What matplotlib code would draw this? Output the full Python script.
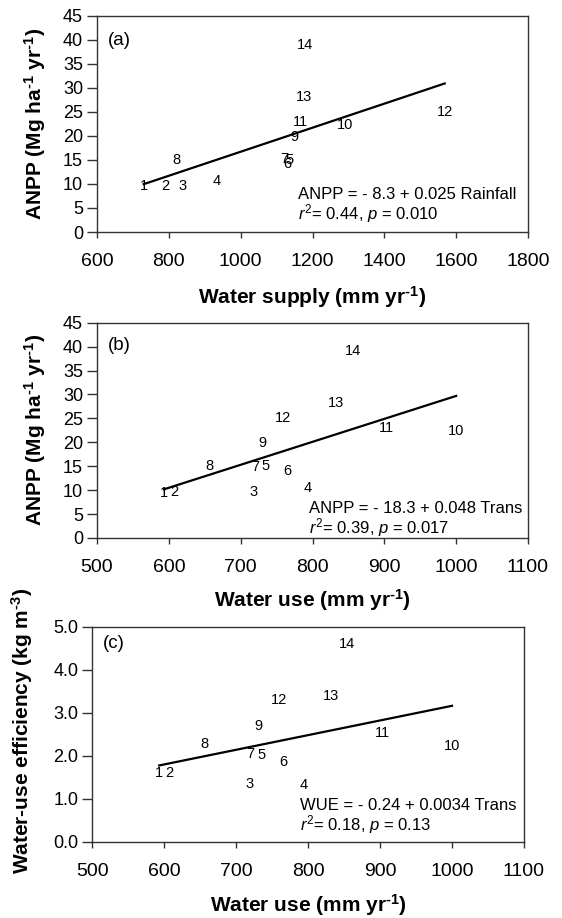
import matplotlib
matplotlib.use('Agg')
import matplotlib.pyplot as plt
import numpy as np

plt.rcParams['font.family'] = ['Liberation Sans', 'DejaVu Sans']
plt.rcParams['mathtext.fontset'] = 'custom'
plt.rcParams['mathtext.rm'] = 'Liberation Sans'
plt.rcParams['mathtext.it'] = 'Liberation Sans:italic'
plt.rcParams['mathtext.bf'] = 'Liberation Sans:bold'

# site numbers used as point labels
site_ids = ['1', '2', '3', '4', '5', '6', '7', '8', '9', '10', '11', '12', '13', '14']

# (a) water supply vs ANPP
supply_a = [730, 791, 839, 933, 1137, 1129, 1121, 821, 1149, 1291, 1166, 1568, 1177, 1179]
anpp_a = [9.5, 9.6, 9.5, 10.6, 14.9, 14.1, 15.1, 14.9, 19.8, 22.2, 22.9, 25.0, 28.1, 38.9]

# (b) water use vs ANPP
use_b = [593, 608, 718, 793, 735, 765, 720, 656, 731, 1000, 903, 759, 833, 856]
anpp_b = [9.4, 9.7, 9.7, 10.5, 15.0, 14.1, 14.8, 15.0, 19.8, 22.3, 23.0, 25.1, 28.2, 39.0]

# (c) water use vs WUE
use_c = [593, 607, 718, 794, 735, 765, 720, 656, 731, 1000, 903, 760, 832, 854]
wue_c = [1.60, 1.60, 1.35, 1.33, 2.02, 1.85, 2.05, 2.27, 2.70, 2.23, 2.54, 3.30, 3.39, 4.59]

# regression fits (intercept, slope) as printed on the figure
fit_a = (-8.3, 0.025)
fit_b = (-18.3, 0.048)
fit_c = (-0.24, 0.0034)

W, H = 562, 918
fig = plt.figure(figsize=(W / 100, H / 100), dpi=100)

# short hyphen for the unit exponents (mathtext would draw a long minus)
HY = '\u2010'


def px_axes(left, right, top, bottom):
    return fig.add_axes([left / W, 1 - bottom / H, (right - left) / W, (bottom - top) / H])


def draw_panel(ax, x, y, fit, xlim, xticks, ylim, yticks, yfmt, tag, eq1, eq2, eqpos):
    for i in range(len(x)):
        ax.text(x[i], y[i], site_ids[i], ha='center', va='center', fontsize=10.5)
    xs = np.array([min(x), max(x)])
    ax.plot(xs, fit[0] + fit[1] * xs, color='black', linewidth=1.6)
    ax.set_xlim(xlim)
    ax.set_ylim(ylim)
    ax.set_xticks(xticks)
    ax.set_yticks(yticks)
    ax.set_yticklabels([yfmt.format(v) for v in yticks])
    ax.tick_params(axis='x', direction='out', length=4, width=1, labelsize=14, pad=11, colors='#333333', labelcolor='black')
    ax.tick_params(axis='y', direction='out', length=7, width=1, labelsize=13, pad=3, colors='#333333', labelcolor='black')
    for s in ax.spines.values():
        s.set_color('#333333')
        s.set_linewidth(1.0)
    ax.text(0.025, tag[1], tag[0], transform=ax.transAxes, fontsize=13.5, va='center', ha='left')
    ax.text(eqpos[0], eqpos[1], eq1, transform=ax.transAxes, fontsize=12, va='baseline', ha='left')
    ax.text(eqpos[0], eqpos[2], eq2, transform=ax.transAxes, fontsize=12, va='baseline', ha='left')


ax_a = px_axes(97, 528, 15.7, 232)
draw_panel(ax_a, supply_a, anpp_a, fit_a, (600, 1800), range(600, 1801, 200),
           (0, 45), list(range(0, 46, 5)), '{:d}', ('(a)', 0.884),
           'ANPP = - 8.3 + 0.025 Rainfall', r'$r^2$= 0.44, $p$ = 0.010', (0.466, 0.153, 0.056))

ax_b = px_axes(97, 528, 322.7, 538)
draw_panel(ax_b, use_b, anpp_b, fit_b, (500, 1100), range(500, 1101, 100),
           (0, 45), list(range(0, 46, 5)), '{:d}', ('(b)', 0.894),
           'ANPP = - 18.3 + 0.048 Trans', r'$r^2$= 0.39, $p$ = 0.017', (0.492, 0.117, 0.022))

ax_c = px_axes(92.3, 524, 626.5, 842)
draw_panel(ax_c, use_c, wue_c, fit_c, (500, 1100), range(500, 1101, 100),
           (0, 5), [0.0, 1.0, 2.0, 3.0, 4.0, 5.0], '{:.1f}', ('(c)', 0.92),
           'WUE = - 0.24 + 0.0034 Trans', r'$r^2$= 0.18, $p$ = 0.13', (0.48, 0.149, 0.053))

# axis titles placed by hand, as in the original layout
anpp_lab = r'ANPP (Mg ha$^{\mathbf{' + HY + r'1}}$ yr$^{\mathbf{' + HY + r'1}}$)'
fig.text(35 / W, 1 - 124 / H, anpp_lab, rotation=90, ha='center', va='center', fontsize=15, fontweight='bold')
fig.text(35 / W, 1 - 430 / H, anpp_lab, rotation=90, ha='center', va='center', fontsize=15, fontweight='bold')
fig.text(22 / W, 1 - 731 / H, r'Water-use efficiency (kg m$^{\mathbf{' + HY + r'3}}$)', rotation=90,
         ha='center', va='center', fontsize=15, fontweight='bold')

unit_yr = r'(mm yr$^{\mathbf{' + HY + r'1}}$)'
fig.text(312.5 / W, 1 - 303.5 / H, 'Water supply ' + unit_yr, ha='center', va='baseline',
         fontsize=15, fontweight='bold')
fig.text(312.5 / W, 1 - 607 / H, 'Water use ' + unit_yr, ha='center', va='baseline',
         fontsize=15, fontweight='bold')
fig.text(308 / W, 1 - 912 / H, 'Water use ' + unit_yr, ha='center', va='baseline',
         fontsize=15, fontweight='bold')

fig.savefig('out.png', dpi=100)
